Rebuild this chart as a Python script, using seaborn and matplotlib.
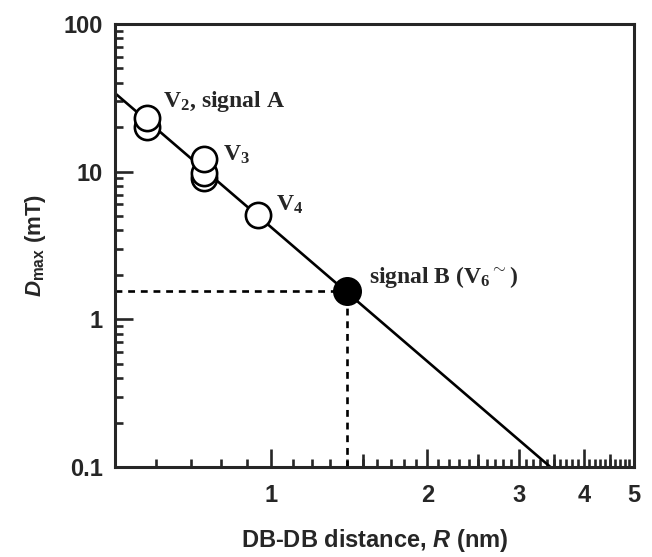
### D_max vs DB-DB distance, log-log
import numpy as np
import matplotlib
matplotlib.use("Agg")
import matplotlib.pyplot as plt
from matplotlib.ticker import FixedLocator, NullLocator, NullFormatter
import seaborn as sns
import pandas as pd

### values ###
open_R = [0.575, 0.575, 0.742, 0.742, 0.742, 0.944]
open_D = [20.0, 23.0, 9.1, 9.8, 12.1, 5.1]
open_state = ["V2", "V2", "V3", "V3", "V3", "V4"]

sigB_R = [1.40]
sigB_D = [1.55]

fit_R = [0.5, 3.45]
fit_D = [34.0, 0.1]

xtick_vals = [1, 2, 3, 4, 5]
xtick_labels = ["1", "2", "3", "4", "5"]
ytick_vals = [0.1, 1, 10, 100]
ytick_labels = ["0.1", "1", "10", "100"]

df_open = pd.DataFrame({"R": open_R, "D": open_D, "state": open_state})
df_fit = pd.DataFrame({"R": fit_R, "D": fit_D})
df_B = pd.DataFrame({"R": sigB_R, "D": sigB_D})

### style ###
sns.set_style("ticks")
plt.rcParams["font.family"] = ["Liberation Sans", "DejaVu Sans"]
plt.rcParams["font.weight"] = "bold"
plt.rcParams["mathtext.fontset"] = "custom"
plt.rcParams["mathtext.rm"] = "Liberation Serif:bold"
plt.rcParams["mathtext.bf"] = "Liberation Serif:bold"
plt.rcParams["mathtext.it"] = "Liberation Sans:italic:bold"
plt.rcParams["mathtext.sf"] = "Liberation Sans:bold"

fs = 17
lw = 1.9

fig = plt.figure(figsize=(6.52, 5.57), dpi=100)
ax = fig.add_axes([0.1764, 0.1616, 0.796, 0.7953])

sns.lineplot(data=df_fit, x="R", y="D", color="black", lw=lw, sort=False,
             estimator=None, ax=ax, zorder=2)
# dashed guides to signal B
ax.plot([0.5, sigB_R[0]], [sigB_D[0], sigB_D[0]], color="black", lw=lw,
        ls=(0, (2.6, 2.2)), zorder=2)
ax.plot([sigB_R[0], sigB_R[0]], [0.1, sigB_D[0]], color="black", lw=lw,
        ls=(0, (2.6, 2.2)), zorder=2)
sns.scatterplot(data=df_open, x="R", y="D", s=330, color="white",
                edgecolor="black", linewidth=lw, ax=ax, zorder=3, legend=False)
sns.scatterplot(data=df_B, x="R", y="D", s=360, color="black",
                edgecolor="black", linewidth=lw, ax=ax, zorder=3, legend=False)

ax.set_xscale("log")
ax.set_yscale("log")
ax.set_xlim(0.5, 5)
ax.set_ylim(0.1, 100)

ax.xaxis.set_major_locator(FixedLocator(xtick_vals))
ax.set_xticklabels(xtick_labels)
ax.xaxis.set_minor_locator(FixedLocator(np.arange(0.6, 5.0, 0.1)))
ax.xaxis.set_minor_formatter(NullFormatter())
ax.yaxis.set_major_locator(FixedLocator(ytick_vals))
ax.set_yticklabels(ytick_labels)
ax.yaxis.set_minor_formatter(NullFormatter())

ax.tick_params(which="major", direction="in", length=13, width=lw,
               labelsize=fs, top=False, right=False)
ax.tick_params(which="minor", direction="in", length=6, width=lw,
               top=False, right=False)
ax.tick_params(axis="x", which="major", pad=12)
ax.tick_params(axis="y", which="major", pad=9)

# half-way ticks on the x axis
sec = ax.secondary_xaxis("bottom")
sec.set_xticks([1.5, 2.5, 3.5, 4.5])
sec.xaxis.set_minor_locator(NullLocator())
sec.tick_params(which="major", direction="in", length=9.5, width=lw,
                labelbottom=False)
sec.spines["bottom"].set_visible(False)

for sp in ax.spines.values():
    sp.set_linewidth(2.2)
    sp.set_visible(True)

ax.set_xlabel(r"DB-DB distance, $R$ (nm)", fontsize=17, fontweight="bold",
              labelpad=15)
ax.set_ylabel(r"$D_{\mathsf{max}}$ (mT)", fontsize=16, fontweight="bold",
              labelpad=11)

tkw = dict(fontsize=17, fontweight="bold", family=["Liberation Serif", "DejaVu Serif"],
           va="baseline", ha="left")
ax.text(0.62, 27.2, r"V$_{\mathrm{2}}$, signal A", **tkw)
ax.text(0.807, 11.9, r"V$_{\mathrm{3}}$", **tkw)
ax.text(1.02, 5.5, r"V$_{\mathrm{4}}$", **tkw)
ax.text(1.54, 1.76, r"signal B (V$_{\mathrm{6}}$$^{\sim}$)", **tkw)

plt.savefig("out.png", dpi=100)
